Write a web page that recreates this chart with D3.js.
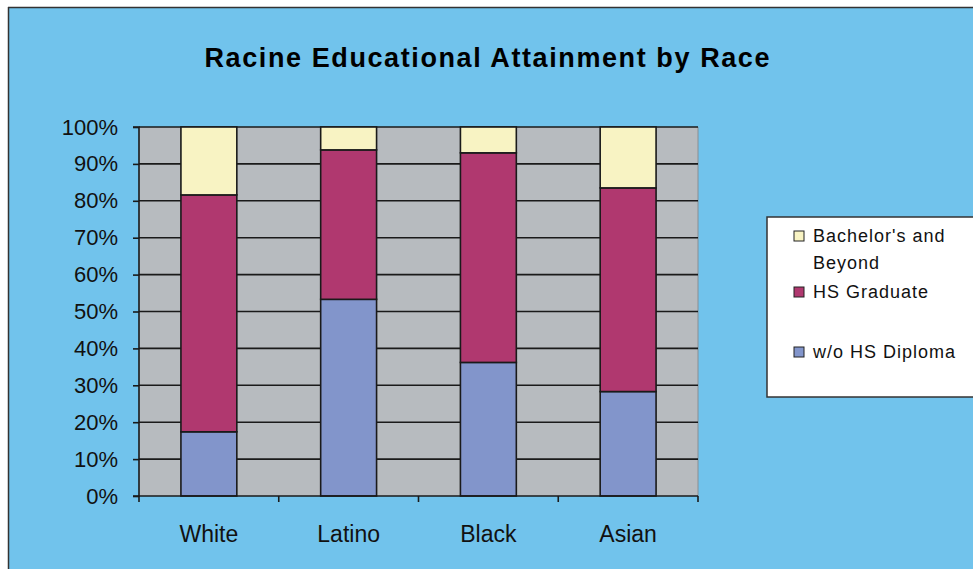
<!DOCTYPE html>
<html>
<head>
<meta charset="utf-8">
<script src="https://cdn.jsdelivr.net/npm/d3@7"></script>
<style>
  html, body { margin: 0; padding: 0; background: #ffffff; }
  svg { display: block; }
  text { font-family: "Liberation Sans", Arial, sans-serif; }
</style>
</head>
<body>
<svg id="chart" width="973" height="569"></svg>
<script>
// Educational attainment shares (%) by race, Racine
const categories = ["White", "Latino", "Black", "Asian"];
const seriesNames = ["w/o HS Diploma", "HS Graduate", "Bachelor's and Beyond"];
const noDiploma = [17.4, 53.3, 36.2, 28.3];
const hsGraduate = [64.2, 40.5, 56.8, 55.2];
const bachelors = [18.4, 6.2, 7.0, 16.5];
const yTicks = [0, 10, 20, 30, 40, 50, 60, 70, 80, 90, 100];
const colors = ["#8295CB", "#B0386F", "#F8F3C3"];

const svg = d3.select("#chart");
const W = 973, H = 569;

// chart background
svg.append("rect").attr("x", 8).attr("y", 7).attr("width", W - 8).attr("height", H - 7)
  .attr("fill", "#71C3EC");
svg.append("line").attr("x1", 8.5).attr("x2", 8.5).attr("y1", 7).attr("y2", H)
  .attr("stroke", "#333").attr("stroke-width", 1.5);
svg.append("line").attr("x1", 8).attr("x2", W).attr("y1", 7.5).attr("y2", 7.5)
  .attr("stroke", "#333").attr("stroke-width", 1.5);

// title
svg.append("text")
  .attr("x", 487).attr("y", 67)
  .attr("text-anchor", "middle")
  .attr("font-size", 27).attr("font-weight", "bold")
  .attr("textLength", 565).attr("lengthAdjust", "spacing")
  .attr("fill", "#000")
  .text("Racine Educational Attainment by Race");

const plot = { left: 139, top: 127, right: 698, bottom: 496 };

const x = d3.scaleBand().domain(categories).range([plot.left, plot.right]).padding(0);
const y = d3.scaleLinear().domain([0, 100]).range([plot.bottom, plot.top]);

// plot area
svg.append("rect")
  .attr("x", plot.left).attr("y", plot.top)
  .attr("width", plot.right - plot.left).attr("height", plot.bottom - plot.top)
  .attr("fill", "#B7BBBF");
svg.append("line").attr("x1", plot.right).attr("x2", plot.right)
  .attr("y1", plot.top).attr("y2", plot.bottom)
  .attr("stroke", "#8a8e92").attr("stroke-width", 1);

// gridlines
svg.append("g").selectAll("line").data(yTicks.filter(d => d > 0)).join("line")
  .attr("x1", plot.left).attr("x2", plot.right)
  .attr("y1", d => y(d)).attr("y2", d => y(d))
  .attr("stroke", "#1a1a1a").attr("stroke-width", 1.6);

// stacked bars
const rows = categories.map((c, i) => ({
  cat: c,
  [seriesNames[0]]: noDiploma[i],
  [seriesNames[1]]: hsGraduate[i],
  [seriesNames[2]]: bachelors[i]
}));
const stack = d3.stack().keys(seriesNames)(rows);
const barW = x.bandwidth() * 0.4;

svg.append("g").selectAll("g").data(stack).join("g")
  .attr("fill", (d, i) => colors[i])
  .selectAll("rect").data(d => d).join("rect")
  .attr("x", d => x(d.data.cat) + (x.bandwidth() - barW) / 2)
  .attr("y", d => y(d[1]))
  .attr("width", barW)
  .attr("height", d => y(d[0]) - y(d[1]))
  .attr("stroke", "#1a1a1a").attr("stroke-width", 1.6);

// y axis
const yAxis = svg.append("g")
  .attr("transform", `translate(${plot.left},0)`)
  .call(d3.axisLeft(y).tickValues(yTicks).tickFormat(d => d + "%").tickSize(6).tickPadding(15));
yAxis.select(".domain").attr("stroke", "#1a1a1a").attr("stroke-width", 1.6)
  .attr("d", `M-6,${plot.top}H0V${plot.bottom}H-6`);
yAxis.selectAll(".tick line").attr("stroke", "#1a1a1a").attr("stroke-width", 1.6);
yAxis.selectAll(".tick text").attr("font-size", 22).attr("fill", "#111")
  .attr("font-family", "'Liberation Sans', Arial, sans-serif");

// x axis
const xAxis = svg.append("g")
  .attr("transform", `translate(0,${plot.bottom})`)
  .call(d3.axisBottom(x).tickSize(0).tickPadding(30));
xAxis.select(".domain").attr("stroke", "#1a1a1a").attr("stroke-width", 1.6)
  .attr("d", `M${plot.left},0H${plot.right}`);
xAxis.selectAll(".tick text").attr("font-size", 23).attr("fill", "#111")
  .attr("font-family", "'Liberation Sans', Arial, sans-serif");
// category boundary ticks
const boundaries = categories.map(c => x(c)).concat([plot.right]);
svg.append("g").selectAll("line").data(boundaries).join("line")
  .attr("x1", d => d).attr("x2", d => d)
  .attr("y1", plot.bottom).attr("y2", plot.bottom + 6)
  .attr("stroke", "#1a1a1a").attr("stroke-width", 1.6);

// legend
const legend = svg.append("g");
legend.append("rect").attr("x", 767).attr("y", 217).attr("width", 210).attr("height", 180)
  .attr("fill", "#ffffff").attr("stroke", "#333").attr("stroke-width", 1.5);
const legendItems = [
  { color: colors[2], lines: ["Bachelor's and", "Beyond"], y: 236 },
  { color: colors[1], lines: ["HS Graduate"], y: 292 },
  { color: colors[0], lines: ["w/o HS Diploma"], y: 352 }
];
legendItems.forEach(item => {
  legend.append("rect").attr("x", 794).attr("y", item.y - 5).attr("width", 10).attr("height", 10)
    .attr("fill", item.color).attr("stroke", "#222").attr("stroke-width", 1);
  item.lines.forEach((t, j) => {
    legend.append("text").attr("x", 813).attr("y", item.y + 6 + j * 27)
      .attr("font-size", 18).attr("letter-spacing", 1).attr("fill", "#111").text(t);
  });
});
</script>
</body>
</html>
